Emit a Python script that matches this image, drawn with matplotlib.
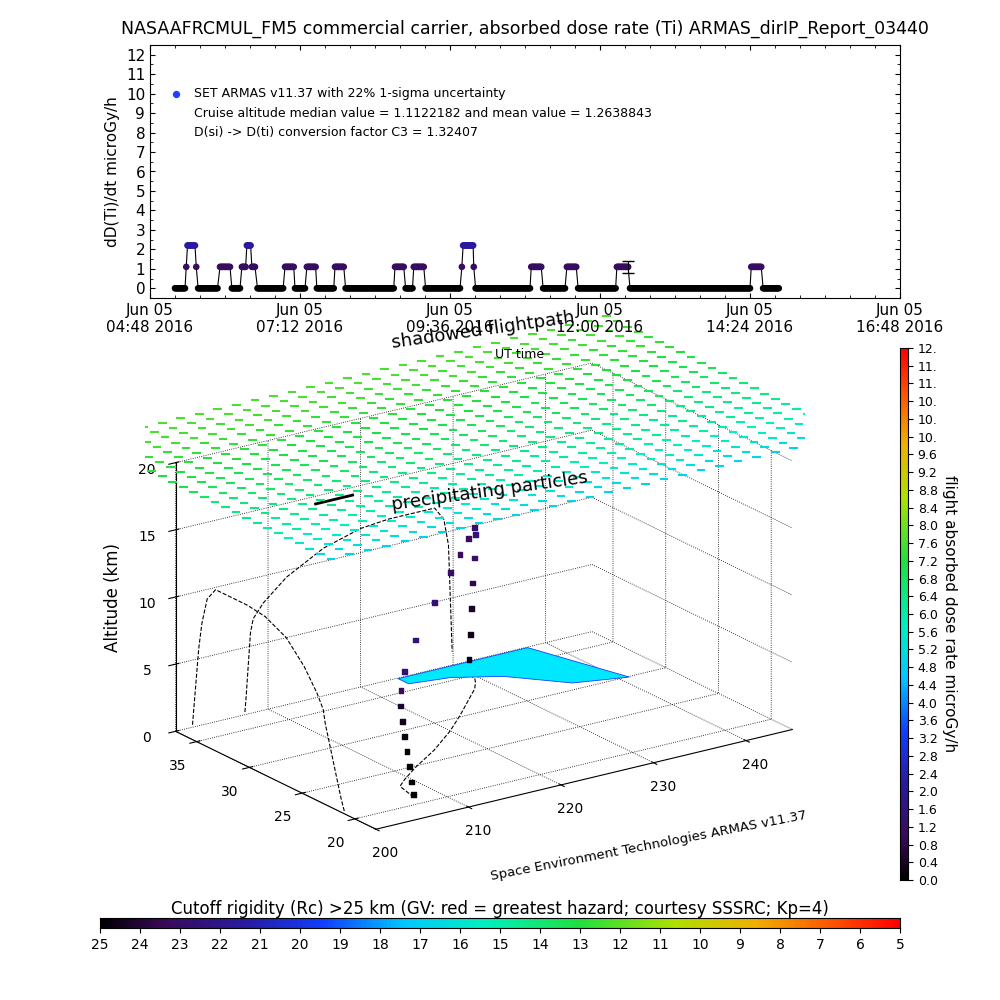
import numpy as np
import matplotlib
matplotlib.use("Agg")
import matplotlib.pyplot as plt
from matplotlib.colors import LinearSegmentedColormap
from mpl_toolkits.mplot3d.art3d import Poly3DCollection

# ---- top panel data: dose rate segments (UT hours, value) ----
seg_start = [5.20, 5.38, 5.40, 5.54, 5.57, 5.92, 6.11, 6.27, 6.35, 6.43, 6.52, 6.96, 7.12,
             7.31, 7.47, 7.76, 7.93, 8.72, 8.89, 9.02, 9.21, 9.79, 9.81, 9.98, 10.01, 10.90,
             11.09, 11.47, 11.65, 12.27, 12.48, 14.42, 14.61]
seg_end = [5.36, 5.38, 5.52, 5.54, 5.88, 6.08, 6.24, 6.33, 6.41, 6.48, 6.93, 7.10, 7.28,
           7.45, 7.74, 7.90, 8.70, 8.86, 9.00, 9.18, 9.76, 9.79, 9.97, 9.98, 10.88, 11.06,
           11.44, 11.62, 12.25, 12.45, 14.40, 14.58, 14.86]
seg_val = [0, 1.1, 2.2, 1.1, 0, 1.1, 0, 1.1, 2.2, 1.1, 0, 1.1, 0,
           1.1, 0, 1.1, 0, 1.1, 0, 1.1, 0, 1.1, 2.2, 1.1, 0, 1.1,
           0, 1.1, 0, 1.1, 0, 1.1, 0]
err_time, err_val, err_sig = 12.45, 1.1, 0.3
time_ticks = [4.8, 7.2, 9.6, 12.0, 14.4, 16.8]
time_labels = ["Jun 05\n04:48 2016", "Jun 05\n07:12 2016", "Jun 05\n09:36 2016",
               "Jun 05\n12:00 2016", "Jun 05\n14:24 2016", "Jun 05\n16:48 2016"]

# ---- 3D panel data ----
sheet_lon = list(range(194, 251, 2))
sheet_lat = [17, 18, 19, 20, 21, 22, 23, 24, 25, 26, 27, 28, 29, 30, 31, 32, 33, 34, 35, 36, 37, 38, 39, 40]
sheet_dose = [5.0, 5.2, 5.4, 5.6, 5.8, 6.0, 6.2, 6.3, 6.4, 6.5, 6.6, 6.7, 6.8, 6.9,
              7.0, 7.1, 7.2, 7.3, 7.4, 7.4, 7.5, 7.5, 7.6, 7.6]
sheet_alt = 21.5

track_lon = [207.5, 207.6, 207.7, 207.8, 207.9, 208.0, 208.1, 208.4, 209.5, 212.0, 216.0, 220.0,
             223.0, 226.0, 228.0, 229.0, 229.5, 229.6, 229.7, 229.8, 229.9]
track_lat = [21.0, 21.3, 21.6, 21.9, 22.2, 22.5, 22.8, 23.0, 23.6, 24.8, 26.5, 28.5,
             30.2, 32.0, 33.2, 34.0, 34.5, 34.8, 35.0, 35.2, 35.4]
track_alt = [0.2, 1.0, 2.0, 3.0, 4.0, 5.0, 6.0, 7.0, 8.0, 9.5, 11.0, 11.8,
             12.0, 12.0, 12.0, 11.0, 9.0, 7.0, 5.0, 3.0, 1.0]
track_dose = [0.1, 0.1, 0.1, 0.1, 0.2, 0.3, 0.5, 1.0, 1.4, 1.5, 1.4, 1.2,
              1.1, 1.1, 1.3, 1.6, 1.2, 0.8, 0.5, 0.3, 0.1]

cyan_lon = [224, 238, 241, 236, 232, 228, 224]
cyan_lat = [37, 37, 30, 31, 34, 35.5, 36]

dose_ticks = np.arange(0, 12.01, 0.4)
rc_ticks = list(range(25, 4, -1))

cmap = LinearSegmentedColormap.from_list("idl", [
    (0.0, "black"), (0.08, "#3a0a5a"), (0.18, "#2a1aa0"), (0.28, "#1040ff"),
    (0.38, "#00c8ff"), (0.48, "#00f0c0"), (0.6, "#20e040"), (0.72, "#b0e000"),
    (0.82, "#f0b000"), (0.92, "#ff5000"), (1.0, "#ff0000")])

plt.rcParams["font.family"] = "DejaVu Sans"
plt.rcParams["font.size"] = 10
fig = plt.figure(figsize=(10, 10), dpi=100)

# ---- 3D panel ----
ax3 = fig.add_axes([0.0, 0.065, 0.95, 0.66], projection="3d")
ax3.patch.set_alpha(0)
ax3.set_proj_type("ortho")
ax3.set_xlim(200, 245)
ax3.set_ylim(18, 37)
ax3.set_zlim(0, 20)
ax3.set_box_aspect((1.6, 1.1, 0.9), zoom=1.0)
ax3.view_init(elev=20, azim=-125)
for a in (ax3.xaxis, ax3.yaxis, ax3.zaxis):
    a.set_pane_color((1, 1, 1, 0))
    a._axinfo["grid"].update(color="black", linestyle=":", linewidth=0.6)
ax3.set_xticks([200, 210, 220, 230, 240])
ax3.set_yticks([20, 25, 30, 35])
ax3.set_zticks([0, 5, 10, 15, 20])
ax3.tick_params(labelsize=10)
ax3.set_zlabel("Altitude (km)", fontsize=12)

LON, LAT = np.meshgrid(sheet_lon, sheet_lat)
DOSE = np.repeat(np.array(sheet_dose)[:, None], len(sheet_lon), axis=1)
ax3.scatter(LON.ravel(), LAT.ravel(), np.full(LON.size, sheet_alt), c=DOSE.ravel(),
            cmap=cmap, vmin=0, vmax=12, marker="_", s=40, depthshade=False)

poly = Poly3DCollection([list(zip(cyan_lon, cyan_lat, [0] * len(cyan_lon)))],
                        facecolor="#00e8ff", edgecolor="#1040ff", lw=0.6)
ax3.add_collection3d(poly)

ax3.scatter(track_lon, track_lat, track_alt, c=track_dose, cmap=cmap, vmin=0, vmax=12,
            s=12, marker="s", depthshade=False)
ax3.plot(track_lon, track_lat, [0] * len(track_lon), "k--", lw=0.8)
ax3.plot([200] * len(track_lat), track_lat, track_alt, "k--", lw=0.8)
ax3.plot(track_lon, [37] * len(track_lon), track_alt, "k--", lw=0.8)
ax3.plot([214, 218], [36, 36], [15, 15], color="black", lw=2)

fig.text(0.39, 0.652, "shadowed flightpath", fontsize=13, rotation=8)
fig.text(0.495, 0.642, "UT time", fontsize=9)
fig.text(0.39, 0.49, "precipitating particles", fontsize=13, rotation=8)
fig.text(0.49, 0.12, "Space Environment Technologies ARMAS v11.37", fontsize=9.5, rotation=11)

# ---- top panel ----
ax = fig.add_axes([0.15, 0.702, 0.75, 0.253])
tt, vv = [], []
for s, e, v in zip(seg_start, seg_end, seg_val):
    n = max(1, int(round((e - s) / 0.016)) + 1)
    for k in range(n):
        tt.append(s + (e - s) * k / max(1, n - 1))
        vv.append(v)
ax.plot(tt, vv, color="black", lw=0.8, zorder=1)
ax.scatter(tt, vv, c=vv, cmap=cmap, vmin=0, vmax=12, s=14, zorder=2)
ax.errorbar([err_time], [err_val], yerr=[err_sig], color="black", capsize=4, lw=0.8)
ax.set_xlim(4.8, 16.8)
ax.set_ylim(-0.4, 12.5)
ax.set_yticks(range(13))
ax.set_yticks(np.arange(-0.5, 12.5, 0.5), minor=True)
ax.set_xticks(time_ticks)
ax.set_xticklabels(time_labels, fontsize=11)
ax.set_xticks(np.arange(4.8, 16.8, 0.4), minor=True)
ax.tick_params(direction="in", which="both", top=True, right=True, labelsize=11)
ax.set_ylabel("dD(Ti)/dt microGy/h", fontsize=11)
ax.set_title("NASAAFRCMUL_FM5 commercial carrier, absorbed dose rate (Ti) ARMAS_dirIP_Report_03440",
             fontsize=12.5, pad=8)
ax.scatter([5.22], [10.0], color="#2040ff", s=18)
ax.text(5.5, 10.0, "SET ARMAS v11.37 with 22% 1-sigma uncertainty", fontsize=9, va="center")
ax.text(5.5, 9.0, "Cruise altitude median value = 1.1122182 and mean value = 1.2638843", fontsize=9, va="center")
ax.text(5.5, 8.0, "D(si) -> D(ti) conversion factor C3 = 1.32407", fontsize=9, va="center")

# ---- dose colorbar (vertical) ----
cb1 = fig.add_axes([0.900, 0.12, 0.008, 0.532])
cb1.imshow(np.linspace(0, 12, 256)[:, None], cmap=cmap, aspect="auto", origin="lower",
           extent=[0, 1, 0, 12])
cb1.set_xticks([])
cb1.yaxis.tick_right()
cb1.set_yticks(dose_ticks)
cb1.set_yticklabels([f"{v:.1f}"[:3] for v in dose_ticks], fontsize=9)
cb1.yaxis.set_label_position("right")
cb1.set_ylabel("flight absorbed dose rate microGy/h", fontsize=11, rotation=270, labelpad=14)

# ---- cutoff rigidity colorbar (horizontal) ----
cb2 = fig.add_axes([0.10, 0.072, 0.80, 0.01])
cb2.imshow(np.linspace(0, 1, 256)[None, :], cmap=cmap, aspect="auto", extent=[25, 5, 0, 1])
cb2.set_xlim(25, 5)
cb2.set_yticks([])
cb2.set_xticks(rc_ticks)
cb2.tick_params(labelsize=10)
cb2.set_title("Cutoff rigidity (Rc) >25 km (GV: red = greatest hazard; courtesy SSSRC; Kp=4)",
              fontsize=12, pad=3)

fig.savefig("out.png", dpi=100)
